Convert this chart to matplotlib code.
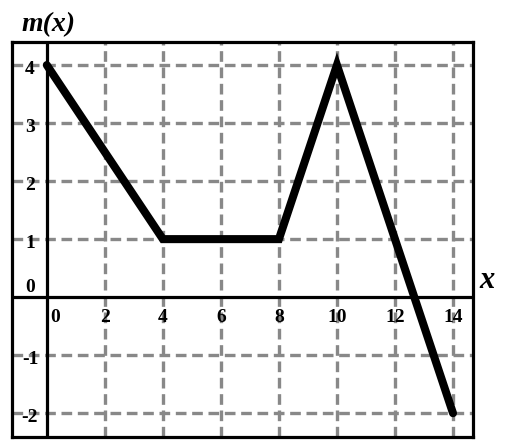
import matplotlib
matplotlib.use("Agg")
import matplotlib.pyplot as plt

# piecewise linear function m(x)
xs = [0, 4, 8, 10, 14]
ys = [4, 1, 1, 4, -2]

x_ticks = [0, 2, 4, 6, 8, 10, 12, 14]
y_ticks = [-2, -1, 1, 2, 3, 4]

plt.rcParams['font.family'] = ['Liberation Serif', 'DejaVu Serif']

fig = plt.figure(figsize=(5.1, 4.46), dpi=100)
ax = fig.add_axes([0.0235, 0.0202, 0.904, 0.886])
ax.set_xlim(-1.2, 14.69)
ax.set_ylim(-2.41, 4.40)

# dashed grid
for gx in x_ticks[1:]:
    ax.axvline(gx, color='#888888', lw=2.4, ls=(0, (3.2, 1.7)), zorder=1)
for gy in y_ticks:
    ax.axhline(gy, color='#888888', lw=2.4, ls=(0, (3.2, 1.7)), zorder=1)

# axes through origin
ax.axhline(0, color='black', lw=2.3, zorder=2)
ax.axvline(0, color='black', lw=2.3, zorder=2)

ax.plot(xs, ys, color='black', lw=5.8, solid_capstyle='round',
        solid_joinstyle='miter', zorder=3)

for s in ax.spines.values():
    s.set_linewidth(2.3)
ax.set_xticks([])
ax.set_yticks([])

# tick labels
for t in x_ticks:
    xp = t + 0.3 if t == 0 else t
    ax.text(xp, -0.35, str(t), ha='center', va='center',
            fontsize=14, fontweight='bold', zorder=4)
for t in y_ticks:
    lab = '-' + str(-t) if t < 0 else str(t)
    ax.text(-0.58, t - 0.07, lab, ha='center', va='center',
            fontsize=14, fontweight='bold', zorder=4)
ax.text(-0.58, 0.17, '0', ha='center', va='center',
        fontsize=14, fontweight='bold', zorder=4)

# axis names
fig.text(0.043, 0.945, 'm(x)', fontsize=20, fontweight='bold',
         fontstyle='italic', va='center', ha='left')
fig.text(0.955, 0.372, 'x', fontsize=22, fontweight='bold',
         fontstyle='italic', va='center', ha='center')

fig.savefig('out.png', dpi=100)
